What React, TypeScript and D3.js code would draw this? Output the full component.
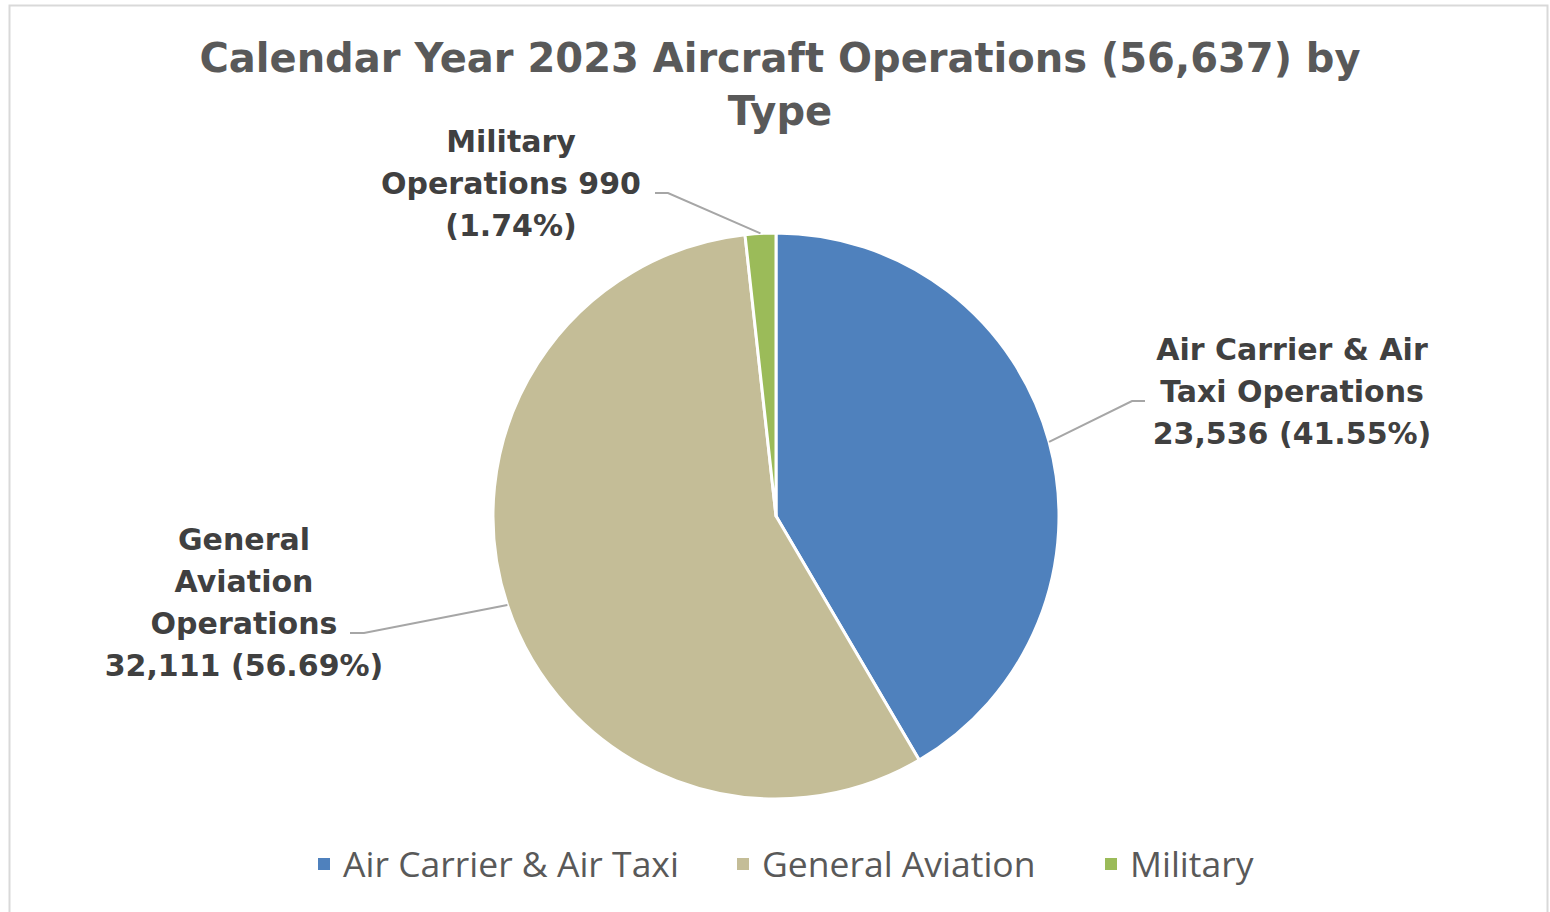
import React, { useEffect, useRef } from "react";
import * as d3 from "d3";

const categories = ["Air Carrier & Air Taxi", "General Aviation", "Military"];
const operations = [23536, 32111, 990];
const sliceColors = ["#4F81BD", "#C4BD97", "#9BBB59"];
const labelLines = [
  ["Air Carrier & Air", "Taxi Operations", "23,536 (41.55%)"],
  ["General", "Aviation", "Operations", "32,111 (56.69%)"],
  ["Military", "Operations 990", "(1.74%)"],
];
const titleLines = ["Calendar Year 2023 Aircraft Operations (56,637) by", "Type"];

const W = 1550;
const H = 912;
const cx = 776;
const cy = 516;
const radius = 283;

// where each label block sits (center x, first baseline) and its leader elbow
const labelPos = [
  { x: 1292, y: 360, elbow: [1132, 401], end: [1145, 401] },
  { x: 244, y: 550, elbow: [364, 633], end: [350, 633] },
  { x: 511, y: 152, elbow: [668, 193], end: [655, 193] },
];

export default function App() {
  const ref = useRef<SVGSVGElement>(null);

  useEffect(() => {
    const svg = d3.select(ref.current);
    svg.selectAll("*").remove();

    svg
      .append("rect")
      .attr("x", 9.5)
      .attr("y", 5.5)
      .attr("width", 1538)
      .attr("height", 920)
      .attr("fill", "#fff")
      .attr("stroke", "#d9d9d9")
      .attr("stroke-width", 2);

    const title = svg
      .append("text")
      .attr("text-anchor", "middle")
      .style("font-family", "DejaVu Sans")
      .style("font-weight", "bold")
      .style("font-size", "40px")
      .attr("fill", "#595959");
    titleLines.forEach((t, i) => {
      title.append("tspan").attr("x", 780).attr("y", 72 + i * 53).text(t);
    });

    const pie = d3
      .pie<number>()
      .sort(null)
      .value((d) => d);
    const arcs = pie(operations);
    const arc = d3.arc<d3.PieArcDatum<number>>().innerRadius(0).outerRadius(radius);

    const g = svg.append("g").attr("transform", `translate(${cx},${cy})`);
    g.selectAll("path")
      .data(arcs)
      .enter()
      .append("path")
      .attr("d", arc)
      .attr("fill", (d, i) => sliceColors[i])
      .attr("stroke", "#fff")
      .attr("stroke-width", 3)
      .attr("stroke-linejoin", "round");

    // leader lines from the middle of each slice's rim
    arcs.forEach((a, i) => {
      const mid = (a.startAngle + a.endAngle) / 2;
      const px = cx + Math.sin(mid) * radius;
      const py = cy - Math.cos(mid) * radius;
      const p = labelPos[i];
      svg
        .append("polyline")
        .attr("points", `${px},${py} ${p.elbow[0]},${p.elbow[1]} ${p.end[0]},${p.end[1]}`)
        .attr("fill", "none")
        .attr("stroke", "#a6a6a6")
        .attr("stroke-width", 2);
    });

    labelLines.forEach((lines, i) => {
      const t = svg
        .append("text")
        .attr("text-anchor", "middle")
        .style("font-family", "DejaVu Sans")
        .style("font-weight", "bold")
        .style("font-size", "30px")
        .attr("fill", "#404040");
      lines.forEach((l, j) => {
        t.append("tspan")
          .attr("x", labelPos[i].x)
          .attr("y", labelPos[i].y + j * 42)
          .text(l);
      });
    });

    // legend
    const legendX = [318, 737, 1105];
    const legend = svg.append("g");
    categories.forEach((c, i) => {
      legend
        .append("rect")
        .attr("x", legendX[i])
        .attr("y", 858)
        .attr("width", 12)
        .attr("height", 12)
        .attr("fill", sliceColors[i]);
      legend
        .append("text")
        .attr("x", legendX[i] + 25)
        .attr("y", 877)
        .style("font-family", "Open Sans")
        .style("font-size", "35.5px")
        .attr("fill", "#595959")
        .text(c);
    });
  }, []);

  return (
    <svg
      ref={ref}
      width={W}
      height={H}
      style={{ position: "absolute", left: 0, top: 0, background: "#fff" }}
    />
  );
}
